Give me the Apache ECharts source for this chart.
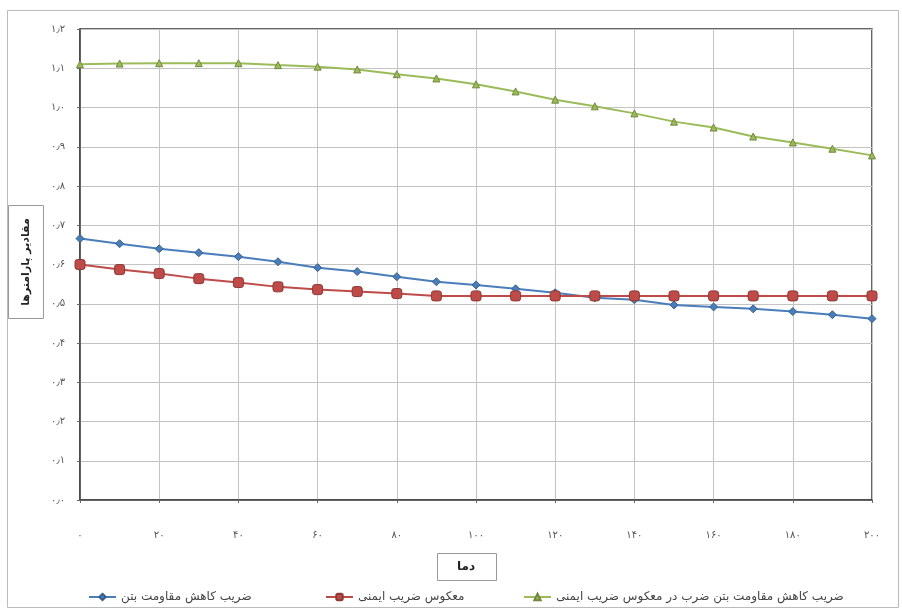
<!DOCTYPE html>
<html>
<head>
<meta charset="utf-8">
<script src="https://cdn.jsdelivr.net/npm/echarts@6/dist/echarts.min.js"></script>
<style>html,body{margin:0;padding:0;background:#fff;}#c{width:902px;height:609px;}</style>
</head>
<body>
<div id="c"></div>
<script>
// ---- data ----
const temperatures = [0,10,20,30,40,50,60,70,80,90,100,110,120,130,140,150,160,170,180,190,200];
const concreteFactor = [0.666,0.653,0.640,0.630,0.620,0.607,0.592,0.582,0.569,0.556,0.548,0.538,0.528,0.515,0.510,0.497,0.492,0.487,0.480,0.472,0.462];
const inverseSafety = [0.600,0.587,0.577,0.564,0.554,0.543,0.536,0.531,0.526,0.520,0.520,0.520,0.520,0.520,0.520,0.520,0.520,0.520,0.520,0.520,0.520];
const combinedFactor = [1.110,1.112,1.113,1.113,1.113,1.108,1.104,1.097,1.085,1.074,1.059,1.041,1.020,1.003,0.985,0.964,0.949,0.926,0.911,0.895,0.878];
const seriesNames = ['ضریب کاهش مقاومت بتن','معکوس ضریب ایمنی','ضریب کاهش مقاومت بتن ضرب در معکوس ضریب ایمنی'];
const xTitle = 'دما';
const yTitle = 'مقادیر پارامترها';

const fa = s => String(s).replace(/\d/g, d => '۰۱۲۳۴۵۶۷۸۹'[d]);
const pairs = arr => temperatures.map((t,i) => [t, arr[i]]);
const FONT = 'DejaVu Sans';

const chart = echarts.init(document.getElementById('c'), null, {renderer:'canvas'});
const mk = (name, data, color, border, symbol, size) => ({
  name, type:'line', data: pairs(data), symbol, symbolSize:size,
  lineStyle:{color, width:2},
  itemStyle:{color, borderColor:border, borderWidth:1},
  emphasis:{disabled:true}, animation:false
});
const legendText = {fontFamily:FONT, fontSize:12, color:'#444'};
chart.setOption({
  animation:false,
  backgroundColor:'#fff',
  grid:{left:80, right:30, top:29, bottom:109, show:true, borderColor:'#333', borderWidth:1.5, containLabel:false},
  xAxis:{type:'value', min:0, max:200, interval:20,
    axisLine:{lineStyle:{color:'#444', width:1.5}},
    axisTick:{show:true, length:3, lineStyle:{color:'#666'}},
    axisLabel:{formatter:v=>fa(v), color:'#555', fontSize:10, fontFamily:FONT, margin:30},
    splitLine:{show:true, lineStyle:{color:'#c4c4c4', width:1}}},
  yAxis:{type:'value', min:0, max:1.2, interval:0.1,
    axisLine:{show:true, lineStyle:{color:'#444', width:1.5}},
    axisTick:{show:true, length:3, lineStyle:{color:'#666'}},
    axisLabel:{formatter:v=>fa(v.toFixed(1)).replace('.', '٫'), color:'#555', fontSize:10, fontFamily:FONT, margin:15},
    splitLine:{show:true, lineStyle:{color:'#c4c4c4', width:1}}},
  legend:[
    {data:[seriesNames[0]], left:83, top:586, itemWidth:27, itemHeight:8, itemGap:4, textStyle:legendText},
    {data:[seriesNames[1]], left:320, top:586, itemWidth:27, itemHeight:8, textStyle:legendText},
    {data:[seriesNames[2]], left:518, top:586, itemWidth:27, itemHeight:8, textStyle:legendText}
  ],
  graphic:[
    {type:'rect', left:5, top:8, shape:{width:891, height:597}, style:{fill:'none', stroke:'#bbb', lineWidth:1}, silent:true},
    {type:'rect', left:8, top:205, shape:{width:35, height:113}, style:{fill:'#fff', stroke:'#999', lineWidth:1}},
    {type:'text', x:26, y:262, rotation:Math.PI/2, style:{text:yTitle, fontFamily:FONT, fontSize:11, fontWeight:'bold', fill:'#222', align:'center', verticalAlign:'middle'}},
    {type:'rect', left:437, top:553, shape:{width:59, height:27}, style:{fill:'#fff', stroke:'#999', lineWidth:1}},
    {type:'text', x:466, y:567, style:{text:xTitle, fontFamily:FONT, fontSize:12, fontWeight:'bold', fill:'#222', align:'center', verticalAlign:'middle'}}
  ],
  series:[
    mk(seriesNames[0], concreteFactor, '#4A7EBB', '#385D8A', 'diamond', 8),
    mk(seriesNames[1], inverseSafety, '#BE4B48', '#8C3836', 'roundRect', 10),
    mk(seriesNames[2], combinedFactor, '#9BBB59', '#71893F', 'triangle', 7)
  ]
});
</script>
</body>
</html>
